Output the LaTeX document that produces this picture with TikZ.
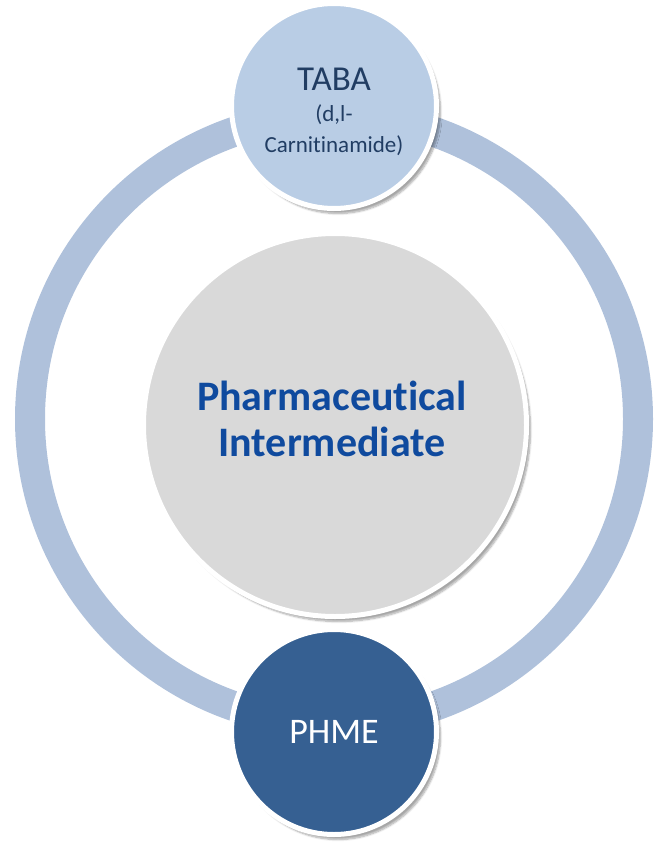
\documentclass[tikz,border=0pt]{standalone}
\usepackage{fontspec}
\setmainfont{Carlito}[Ligatures=CommonOff]
\usetikzlibrary{shadows.blur}

\definecolor{anello}{HTML}{AFC1DB}
\definecolor{azzurro}{HTML}{B9CDE5}
\definecolor{bluscuro}{HTML}{366092}
\definecolor{grigio}{HTML}{D9D9D9}
\definecolor{testoblu}{HTML}{0F4A9E}
\definecolor{testonavy}{HTML}{213D63}

\tikzset{
  bolla/.style={circle, draw=white, line width=5pt, align=center, inner sep=0pt,
    blur shadow={shadow xshift=4pt, shadow yshift=-5pt, shadow blur steps=8, shadow opacity=35}},
}

\begin{document}
\begin{tikzpicture}[x=1pt, y=-1pt]
    \useasboundingbox (0,0) rectangle (664,843);

    % Anello
    \coordinate (centro) at (334,419);
    \draw[anello, line width=30pt] (centro) circle (304pt);

    % Cerchio centrale
    \node[bolla, fill=grigio, minimum size=383pt] (pharma) at (335,425) {};
    \node[text=testoblu, align=center, font=\fontsize{42}{46}\selectfont\bfseries]
        (pharmatesto) at (332,419) {Pharmaceutical\\Intermediate};

    % Cerchio in alto
    \node[bolla, fill=azzurro, minimum size=205pt] (taba) at (334,106) {};
    \node[text=testonavy, align=center, font=\fontsize{23}{31}\selectfont]
        (tabatesto) at (334,112) {{\fontsize{35}{31}\selectfont TABA}\\(d,l-\\Carnitinamide)};

    % Cerchio in basso
    \node[bolla, fill=bluscuro, minimum size=205pt, text=white,
          font=\fontsize{36}{40}\selectfont] (phme) at (334,732) {PHME};
\end{tikzpicture}
\end{document}
